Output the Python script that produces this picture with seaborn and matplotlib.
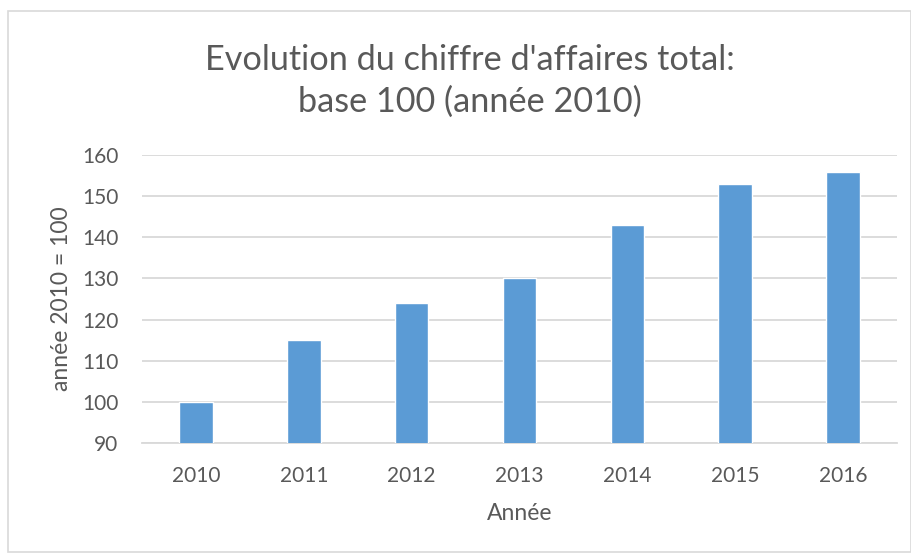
import matplotlib
matplotlib.use("Agg")
import matplotlib.pyplot as plt
import seaborn as sns
import pandas as pd
from matplotlib.patches import Rectangle

years = ["2010", "2011", "2012", "2013", "2014", "2015", "2016"]
values = [100, 115, 124, 130, 143, 153, 156]
yticks = [90, 100, 110, 120, 130, 140, 150, 160]

sns.set_style("white")
plt.rcParams['font.family'] = ['Lato', 'DejaVu Sans']

df = pd.DataFrame({"Année": years, "val": values})

fig = plt.figure(figsize=(9.12, 5.53), dpi=100)
W, H = 912, 553
ax = fig.add_axes([142 / W, 1 - 442.7 / H, (897 - 142) / W, (442.7 - 155.3) / H])

sns.barplot(data=df, x="Année", y="val", color="#5B9BD5", width=0.31, ax=ax,
            saturation=1, zorder=3)
ax.set_ylim(90, 160)
ax.set_yticks(yticks)
ax.set_xlim(-0.5, 6.5)
ax.yaxis.grid(True, color="#d9d9d9", lw=1.3, zorder=0)
ax.set_axisbelow(True)
for s in ["top", "right", "left"]:
    ax.spines[s].set_visible(False)
ax.spines["bottom"].set_color("#d9d9d9")
ax.spines["bottom"].set_linewidth(1.3)
ax.tick_params(axis="both", length=0, labelsize=15, labelcolor="#595959")
ax.tick_params(axis="y", pad=17)
ax.tick_params(axis="x", pad=17)
ax.set_xlabel("Année", fontsize=16.5, color="#595959", labelpad=12)
ax.set_ylabel("année 2010 = 100", fontsize=16.5, color="#595959")
ax.yaxis.set_label_coords((72 - 142) / 755, 0.5)

fig.text(470 / W, 1 - 60 / H, "Evolution du chiffre d'affaires total:", ha="center", va="center",
         fontsize=24.7, color="#595959")
fig.text(470 / W, 1 - 102 / H, "base 100 (année 2010)", ha="center", va="center",
         fontsize=24.7, color="#595959")

fig.patches.append(Rectangle((8 / W, 1 / H), (911 - 8) / W, (553 - 11 - 1) / H,
                             transform=fig.transFigure, fill=False,
                             edgecolor="#d9d9d9", lw=1.2))

fig.savefig("out.png", dpi=100)
